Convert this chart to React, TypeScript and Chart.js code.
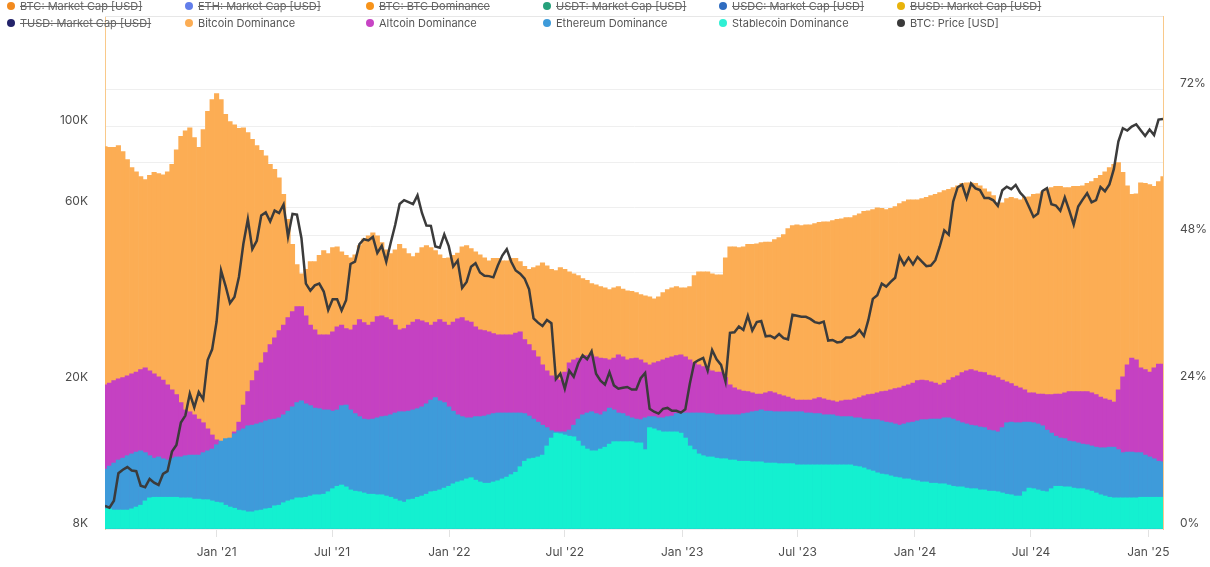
import React, { useEffect, useRef } from "react";
import { Chart, registerables } from "chart.js";

Chart.register(...registerables);

// Weekly samples, first sample on 2020-07-10
const START_UTC = Date.UTC(2020, 6, 10);
const SAMPLE_STEP_DAYS = 7;

const priceUsd = [
  9250, 9150, 9550, 11350, 11600, 11800, 11550, 11500, 10500, 10400, 10950, 10700, 10550, 11300, 11500, 13000, 13550, 15600, 16300, 18700, 17150, 18900, 18050, 23100, 24700,
  29400, 40500, 36800, 33000, 34300, 38900, 47900, 55900, 46300, 48800, 57200, 58300, 55100, 59000, 58100, 61300, 50100, 57800, 57500, 49700, 37300, 35700, 36900, 37300, 35500, 31600, 33800, 33800, 31500, 33600, 42200, 42800, 47800, 49300, 48900, 50000, 45200, 47300, 42800, 48200, 53900, 61500, 63000, 62200, 61400, 64900, 58100, 53700, 53600, 47100, 46700, 50800, 47200,
  41500, 43100, 36300, 37700, 41500, 42400, 40000, 39200, 39100, 38800, 41800, 44500, 46300, 42800, 40500, 39700, 38500, 36000, 30000, 29200, 28600, 29700, 29100, 20500, 21200, 19300, 21600, 20800, 22600, 23800, 23200, 24400, 21200, 20300, 19800, 21400, 19700, 19300, 19400, 19500, 19200, 19200, 20600, 21300, 17000, 16700, 16500, 17000, 17100, 16800, 16800, 16600,
  16950, 19900, 22700, 23100, 23400, 21600, 24600, 23200, 22400, 20200, 27400, 27500, 28500, 27900, 30500, 27800, 29300, 29500, 26800, 26900, 26500, 27200, 26500, 26300, 30700, 30500, 30300, 30300, 29900, 29300, 29100, 29400, 26100, 26200, 25800, 25900, 26600, 26600, 27000, 27900, 26850, 29700, 33900, 34700, 37300, 36600, 37700, 38700, 44200, 42000, 43900, 42100,
  44100, 42800, 41600, 41800, 43200, 47100, 52100, 50700, 62400, 68300, 69400, 63800, 69900, 67800, 67100, 63800, 63800, 62900, 60800, 67000, 68500, 67500, 69300, 66000, 64100, 60300, 56700, 57900, 66700, 67900, 61400, 60900, 58900, 64100, 59100, 54000, 60500, 63200, 65800, 62100, 63000, 68400, 66600, 69500, 76600, 91000, 98900, 97500, 99900, 101400, 97700, 94200,
  98100, 94700, 104400, 104800,
];

const bitcoinDominance = [
  62.6, 62.5, 62.5, 62.8, 61.8, 60.5, 59.2, 58.5, 57.7, 57.2,
  57.9, 58.4, 58.2, 58.0, 58.5, 59.7, 62.1, 64.3, 65.2, 65.7,
  64.1, 62.5, 65.4, 68.4, 70.3, 71.3, 70.3, 67.9, 66.7, 66.2,
  65.6, 65.7, 64.9, 63.8, 62.8, 62.0, 61.1, 59.7, 58.9, 57.5,
  54.8, 50.7, 46.6, 43.3, 41.8, 42.5, 43.8, 43.8, 44.8, 45.6,
  45.1, 46.1, 46.2, 45.4, 44.8, 44.4, 44.9, 46.4, 47.5, 48.0,
  48.5, 48.0, 46.9, 45.7, 45.1, 45.7, 46.6, 45.9, 45.1, 44.6,
  45.2, 46.1, 46.4, 46.1, 45.6, 44.9, 44.3, 44.4, 44.8, 45.2,
  46.2, 46.4, 45.9, 45.4, 44.9, 44.4, 43.9, 44.3, 44.3, 43.9,
  43.9, 44.3, 44.3, 43.8, 43.0, 42.5, 42.8, 43.1, 43.6, 43.1,
  42.5, 42.3, 42.8, 42.5, 42.1, 41.8, 41.5, 41.0, 40.7, 40.2,
  40.0, 39.7, 39.5, 39.2, 39.5, 39.7, 39.3, 39.0, 38.9, 38.7,
  38.4, 38.2, 38.0, 37.7, 38.0, 38.7, 39.2, 39.5, 39.7, 39.5,
  39.5, 39.7, 41.5, 42.1, 42.1, 42.1, 41.8, 41.6, 41.6, 44.4,
  46.2, 46.2, 46.1, 46.2, 46.6, 46.6, 46.7, 46.9, 47.0, 47.0,
  47.4, 47.7, 48.2, 49.2, 49.7, 49.8, 49.7, 49.8, 49.8, 50.0,
  50.2, 50.3, 50.3, 50.5, 50.7, 50.8, 51.0, 51.0, 51.3, 51.6,
  52.0, 52.1, 52.3, 52.6, 52.5, 52.3, 52.5, 52.8, 53.3, 53.6,
  53.9, 53.9, 53.9, 54.1, 54.3, 54.6, 54.8, 55.1, 55.4, 55.6,
  55.9, 56.2, 56.6, 56.7, 56.7, 56.6, 56.2, 55.7, 55.2, 54.6,
  53.4, 53.4, 54.1, 54.3, 54.1, 53.9, 54.3, 54.4, 54.8, 54.9,
  55.2, 55.7, 55.9, 56.1, 56.1, 55.9, 55.9, 56.1, 56.1, 56.2,
  56.6, 56.9, 57.4, 57.9, 58.5, 59.2, 59.7, 60.0, 58.4, 56.2,
  54.8, 54.9, 56.7, 56.6, 56.4, 56.1, 56.9, 57.7,
];

const altcoinDominance = [
  23.6, 23.9, 24.3, 24.6, 24.8, 25.1, 25.4, 25.7, 26.1, 26.4,
  25.9, 25.4, 24.9, 24.4, 23.6, 22.8, 22.0, 20.7, 19.5, 19.2,
  18.7, 18.0, 17.4, 16.4, 15.4, 14.6, 14.1, 14.3, 14.6, 15.9,
  17.5, 20.3, 22.5, 24.3, 25.9, 27.2, 28.9, 30.2, 31.3, 32.5,
  33.4, 34.6, 35.6, 36.4, 36.4, 34.9, 33.4, 32.6, 31.8, 31.8,
  31.8, 32.3, 33.1, 33.4, 32.8, 32.6, 33.4, 34.3, 33.8, 33.4,
  33.9, 34.8, 34.9, 34.6, 34.3, 33.4, 32.6, 32.8, 33.4, 33.9,
  34.3, 34.1, 33.8, 33.4, 33.9, 34.3, 33.9, 33.4, 33.9, 34.4,
  34.6, 34.1, 33.9, 33.1, 32.6, 32.5, 32.3, 32.0, 31.8, 31.8,
  31.8, 31.8, 32.1, 32.3, 31.0, 30.2, 29.2, 28.2, 26.9, 25.9,
  25.1, 24.8, 24.4, 25.7, 27.2, 27.7, 28.0, 28.2, 28.4, 28.5,
  28.2, 28.0, 27.9, 27.7, 28.0, 28.5, 28.2, 27.7, 27.9, 28.0,
  27.7, 27.2, 26.9, 27.2, 27.4, 27.7, 28.0, 28.2, 28.4, 28.5,
  28.2, 27.7, 27.2, 26.9, 26.6, 26.2, 25.9, 25.7, 25.7, 24.8,
  23.6, 23.1, 22.8, 22.6, 22.5, 22.3, 22.1, 22.1, 22.3, 22.5,
  22.3, 22.0, 21.8, 21.6, 21.3, 21.1, 21.1, 21.1, 21.1, 21.3,
  21.5, 21.3, 21.1, 21.0, 20.8, 21.0, 21.1, 21.1, 21.3, 21.5,
  21.8, 22.0, 22.1, 22.3, 22.5, 22.6, 22.8, 23.0, 23.1, 23.4,
  23.6, 23.9, 24.3, 24.4, 24.3, 24.1, 23.9, 23.6, 23.9, 24.4,
  24.8, 25.1, 25.6, 25.9, 26.1, 25.9, 25.7, 25.6, 25.2, 25.1,
  24.8, 24.4, 24.1, 23.8, 23.4, 23.1, 22.8, 22.3, 22.3, 22.1,
  22.1, 22.0, 22.0, 22.1, 22.1, 22.3, 22.5, 22.5, 22.5, 22.5,
  22.5, 22.3, 22.0, 21.6, 21.3, 21.1, 20.8, 22.8, 24.9, 26.9,
  28.0, 27.7, 26.4, 26.1, 25.7, 26.4, 27.0, 27.0,
];

const ethereumDominance = [
  9.8, 10.3, 10.8, 11.3, 11.6, 12.0, 12.3, 12.6, 12.8, 12.5,
  12.0, 11.6, 11.8, 11.5, 11.3, 11.6, 11.8, 11.8, 12.0, 12.1,
  12.1, 12.1, 12.5, 12.8, 13.1, 13.8, 14.4, 14.8, 14.9, 15.6,
  16.1, 16.4, 16.9, 17.0, 17.2, 17.4, 17.7, 17.9, 18.0, 18.2,
  18.7, 19.3, 20.0, 20.7, 21.0, 20.5, 20.2, 19.8, 19.7, 19.5,
  19.5, 19.3, 19.5, 20.2, 20.3, 19.5, 18.9, 18.4, 18.0, 17.9,
  18.0, 18.2, 18.4, 18.5, 18.7, 19.0, 19.2, 19.2, 19.3, 19.5,
  19.7, 20.0, 20.5, 21.1, 21.5, 21.0, 20.7, 20.0, 19.3, 18.7,
  18.4, 18.2, 18.2, 18.4, 18.4, 18.5, 18.7, 18.9, 19.0, 19.0,
  19.0, 19.0, 19.0, 19.0, 18.9, 18.5, 18.0, 17.5, 17.0, 16.6,
  16.1, 15.9, 15.9, 15.9, 16.2, 17.0, 18.0, 18.7, 19.0, 19.2,
  18.9, 18.7, 19.2, 19.8, 19.5, 19.0, 18.9, 18.5, 18.2, 18.0,
  17.9, 18.2, 18.4, 18.4, 18.2, 18.2, 18.4, 18.5, 18.9, 19.0,
  19.0, 19.0, 19.0, 19.0, 19.0, 18.9, 18.9, 18.7, 18.7, 18.7,
  18.7, 18.7, 18.7, 18.9, 19.0, 19.2, 19.3, 19.5, 19.3, 19.3,
  19.2, 19.2, 19.2, 19.2, 19.2, 19.2, 19.2, 19.0, 19.0, 18.9,
  18.9, 18.7, 18.7, 18.7, 18.5, 18.4, 18.4, 18.4, 18.2, 18.2,
  18.0, 18.0, 17.9, 17.9, 17.7, 17.5, 17.4, 17.2, 17.0, 17.2,
  17.4, 17.5, 17.7, 17.9, 17.9, 18.0, 18.0, 18.0, 18.2, 18.2,
  18.0, 17.7, 17.4, 17.2, 17.0, 16.9, 16.7, 16.6, 16.2, 16.1,
  15.9, 16.6, 17.4, 17.5, 17.4, 17.4, 17.5, 17.5, 17.4, 17.2,
  16.9, 16.2, 15.7, 15.2, 14.9, 14.8, 14.4, 14.3, 14.1, 13.9,
  13.8, 13.6, 13.4, 13.3, 13.3, 13.4, 13.4, 13.0, 12.5, 12.6,
  12.6, 12.5, 12.5, 12.1, 11.8, 11.5, 11.1, 11.0,
];

const stablecoinDominance = [
  3.3, 3.3, 3.1, 3.1, 3.1, 3.1, 3.3, 3.6, 3.9, 4.6,
  5.1, 5.2, 5.2, 5.2, 5.2, 5.2, 5.2, 5.1, 5.1, 5.1,
  4.9, 4.9, 4.8, 4.8, 4.6, 4.4, 4.3, 3.9, 3.6, 3.4,
  3.1, 3.0, 2.8, 2.8, 3.0, 3.1, 3.3, 3.4, 3.8, 3.9,
  4.3, 4.6, 4.8, 5.1, 5.1, 5.2, 5.4, 5.6, 5.6, 5.7,
  6.1, 6.6, 7.0, 7.2, 6.9, 6.4, 6.2, 6.1, 5.9, 5.7,
  5.7, 5.6, 5.6, 5.4, 5.2, 4.9, 4.6, 4.4, 4.8, 4.9,
  5.2, 5.4, 5.7, 6.1, 6.2, 6.4, 6.7, 7.0, 7.4, 7.7,
  7.9, 8.2, 8.4, 8.0, 7.7, 7.5, 7.5, 7.7, 7.9, 8.2,
  8.5, 8.9, 9.3, 10.2, 11.1, 11.5, 11.6, 11.8, 12.1, 13.6,
  14.9, 15.7, 15.6, 15.4, 15.2, 15.1, 14.4, 13.6, 13.1, 12.8,
  12.8, 13.1, 13.4, 13.9, 14.3, 14.3, 14.3, 14.3, 14.3, 14.1,
  14.1, 13.0, 16.6, 16.4, 16.1, 15.9, 15.9, 15.9, 15.9, 15.7,
  14.9, 13.6, 13.0, 12.3, 12.0, 11.8, 11.8, 11.6, 11.5, 11.5,
  11.3, 11.3, 11.1, 11.1, 11.1, 11.0, 11.0, 11.0, 10.8, 10.8,
  10.8, 10.7, 10.7, 10.7, 10.7, 10.5, 10.5, 10.5, 10.5, 10.5,
  10.5, 10.5, 10.5, 10.5, 10.5, 10.5, 10.5, 10.5, 10.3, 10.2,
  10.0, 9.7, 9.5, 9.2, 9.0, 8.9, 8.7, 8.5, 8.4, 8.2,
  8.2, 8.0, 7.9, 7.7, 7.7, 7.5, 7.5, 7.4, 7.4, 7.2,
  7.0, 6.9, 6.9, 6.7, 6.6, 6.6, 6.4, 6.4, 6.2, 6.2,
  6.1, 5.9, 5.7, 5.6, 5.4, 5.4, 6.1, 6.7, 6.6, 6.4,
  6.2, 6.1, 6.6, 7.0, 7.0, 6.9, 6.9, 6.7, 6.6, 6.6,
  6.4, 6.2, 5.9, 5.6, 5.4, 5.2, 5.1, 5.1, 5.1, 5.1,
  5.1, 5.1, 5.2, 5.2, 5.2, 5.2, 5.2, 5.2,
];

const xTickDates: [number, number, number][] = [
  [2021, 0, 1], [2021, 6, 1], [2022, 0, 1], [2022, 6, 1], [2023, 0, 1],
  [2023, 6, 1], [2024, 0, 1], [2024, 6, 1], [2025, 0, 1],
];
const xTickLabels = ["Jan '21", "Jul '21", "Jan '22", "Jul '22", "Jan '23", "Jul '23", "Jan '24", "Jul '24", "Jan '25"];

const priceTicks = [8000, 20000, 40000, 60000, 80000, 100000];
const priceTickLabels: Record<number, string> = { 8000: "8K", 20000: "20K", 60000: "60K", 100000: "100K" };
const dominanceTicks = [0, 24, 48, 72];

const legendLabels = [
  "BTC: Market Cap [USD]", "ETH: Market Cap [USD]", "BTC: BTC Dominance", "USDT: Market Cap [USD]", "USDC: Market Cap [USD]", "BUSD: Market Cap [USD]",
  "TUSD: Market Cap [USD]", "Bitcoin Dominance", "Altcoin Dominance", "Ethereum Dominance", "Stablecoin Dominance", "BTC: Price [USD]",
];
const legendColors = [
  "#f28a1f", "#627eea", "#f7931a", "#26a17b", "#2f6cc0", "#e8b30b",
  "#23236a", "#fcad54", "#c744c4", "#3e9bda", "#2ff0d4", "#3a3a3a",
];
const legendHidden = [true, true, true, true, true, true, true, false, false, false, false, false];

const COLORS = {
  bitcoin: "#fcad54",
  altcoin: "#c541c2",
  ethereum: "#3e9bda",
  stablecoin: "#14f0d0",
  price: "#3b3b3b",
  grid: "#efefef",
  axisBorder: "#f9c98a",
  tick: "#4d4d4d",
};

const LEGEND_COL_X = [11, 189, 370, 547, 723, 901];
const LEGEND_ROW_Y = [6, 23];

const dayOf = (d: [number, number, number]) => (Date.UTC(d[0], d[1], d[2]) - START_UTC) / 86400000;

const topBorderPlugin = {
  id: "topBorder",
  afterDraw(chart: any) {
    const { ctx, chartArea } = chart;
    ctx.save();
    ctx.strokeStyle = "#e7e7e7";
    ctx.lineWidth = 1;
    ctx.beginPath();
    ctx.moveTo(chartArea.left, chartArea.top + 0.5);
    ctx.lineTo(chartArea.right, chartArea.top + 0.5);
    ctx.stroke();
    ctx.restore();
  },
};

export default function App() {
  const canvasRef = useRef<HTMLCanvasElement | null>(null);

  useEffect(() => {
    if (!canvasRef.current) return;
    const xs = priceUsd.map((_, i) => i * SAMPLE_STEP_DAYS);
    const pts = (arr: number[]) => arr.map((v, i) => ({ x: xs[i], y: v }));
    const xTickValues = xTickDates.map(dayOf);
    const tickFont = { family: "Inter", size: 12 };

    const barCommon = {
      type: "bar" as const,
      yAxisID: "yDom",
      grouped: false,
      barPercentage: 1,
      categoryPercentage: 1,
      borderWidth: 0,
      clip: 0,
    };

    const chart = new Chart(canvasRef.current, {
      type: "bar",
      data: {
        datasets: [
          {
            type: "line",
            label: "BTC: Price [USD]",
            data: pts(priceUsd),
            yAxisID: "yPrice",
            borderColor: COLORS.price,
            borderWidth: 2.5,
            pointRadius: 0,
            tension: 0,
            order: 0,
          } as any,
          { ...barCommon, label: "Stablecoin Dominance", data: pts(stablecoinDominance), backgroundColor: COLORS.stablecoin, order: 1 },
          { ...barCommon, label: "Ethereum Dominance", data: pts(ethereumDominance), backgroundColor: COLORS.ethereum, order: 2 },
          { ...barCommon, label: "Altcoin Dominance", data: pts(altcoinDominance), backgroundColor: COLORS.altcoin, order: 3 },
          { ...barCommon, label: "Bitcoin Dominance", data: pts(bitcoinDominance), backgroundColor: COLORS.bitcoin, order: 4 },
        ],
      },
      options: {
        responsive: false,
        animation: false,
        devicePixelRatio: 1,
        layout: { padding: { top: 16, left: 0, right: 0, bottom: 0 } },
        plugins: { legend: { display: false }, tooltip: { enabled: false } },
        scales: {
          x: {
            type: "linear",
            min: 0,
            max: xs[xs.length - 1],
            offset: false,
            afterBuildTicks: (s: any) => {
              s.ticks = xTickValues.map((v) => ({ value: v }));
            },
            ticks: {
              autoSkip: false,
              maxRotation: 0,
              padding: 8,
              color: COLORS.tick,
              font: tickFont,
              callback: (_v: any, i: number) => xTickLabels[i],
            },
            grid: { drawOnChartArea: false, drawTicks: true, tickLength: 8, color: "#e2e2e2", offset: false },
            border: { display: false },
            afterFit: (s: any) => {
              s.height = 38;
              s.paddingLeft = 0;
              s.paddingRight = 0;
            },
          },
          yPrice: {
            type: "logarithmic",
            position: "left",
            min: 8000,
            max: 200000,
            afterBuildTicks: (s: any) => {
              s.ticks = priceTicks.map((v) => ({ value: v }));
            },
            ticks: {
              autoSkip: false,
              padding: 17,
              labelOffset: -6,
              color: COLORS.tick,
              font: tickFont,
              callback: (v: any) => priceTickLabels[Number(v)] ?? "",
            },
            grid: { color: COLORS.grid, drawTicks: false },
            border: { display: true, color: COLORS.axisBorder, width: 1 },
            afterFit: (s: any) => {
              s.width = 105;
              s.paddingTop = 0;
              s.paddingBottom = 0;
            },
          },
          yDom: {
            type: "linear",
            position: "right",
            min: 0,
            max: 84,
            afterBuildTicks: (s: any) => {
              s.ticks = dominanceTicks.map((v) => ({ value: v }));
            },
            ticks: {
              autoSkip: false,
              padding: 17,
              labelOffset: -6,
              color: COLORS.tick,
              font: tickFont,
              callback: (v: any) => `${v}%`,
            },
            grid: { color: COLORS.grid, drawTicks: false },
            border: { display: true, color: COLORS.axisBorder, width: 1 },
            afterFit: (s: any) => {
              s.width = 47;
              s.paddingTop = 0;
              s.paddingBottom = 0;
            },
          },
        },
      } as any,
      plugins: [topBorderPlugin],
    });

    return () => chart.destroy();
  }, []);

  return (
    <div style={{ position: "absolute", left: 0, top: 0, width: 1210, height: 567, background: "#fff", overflow: "hidden" }}>
      <canvas ref={canvasRef} width={1210} height={567} style={{ position: "absolute", left: 0, top: 0, display: "block" }} />
      {legendLabels.map((label, k) => {
        const col = k % 6;
        const row = Math.floor(k / 6);
        return (
          <div
            key={label}
            style={{
              position: "absolute",
              left: LEGEND_COL_X[col] - 4,
              top: LEGEND_ROW_Y[row] - 8,
              height: 16,
              display: "flex",
              alignItems: "center",
              fontFamily: "Inter, sans-serif",
              fontSize: 11,
              lineHeight: "16px",
              color: legendHidden[k] ? "#666" : "#555",
              whiteSpace: "nowrap",
            }}
          >
            <span
              style={{
                display: "inline-block",
                width: 8,
                height: 8,
                borderRadius: "50%",
                background: legendColors[k],
                marginRight: 5,
              }}
            />
            <span style={{ textDecoration: legendHidden[k] ? "line-through" : "none" }}>{label}</span>
          </div>
        );
      })}
    </div>
  );
}
